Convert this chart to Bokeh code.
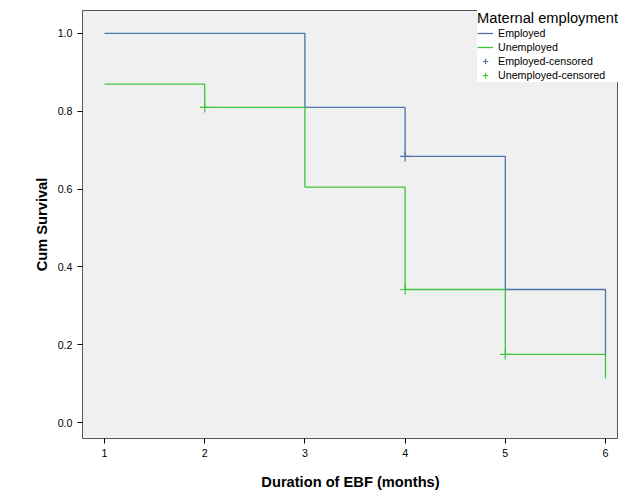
from bokeh.plotting import figure
from bokeh.models import Range1d, Legend, LegendItem, FixedTicker, CustomJSTickFormatter
from bokeh.embed import file_html
from bokeh.resources import INLINE

# survival step values
emp_x = [1, 3, 3, 4, 4, 5, 5, 6, 6]
emp_y = [1.0, 1.0, 0.81, 0.81, 0.684, 0.684, 0.342, 0.342, 0.175]
unemp_x = [1, 2, 2, 3, 3, 4, 4, 5, 5, 6, 6]
unemp_y = [0.87, 0.87, 0.81, 0.81, 0.605, 0.605, 0.342, 0.342, 0.175, 0.175, 0.113]
emp_cens_x = [4]
emp_cens_y = [0.684]
unemp_cens_x = [2, 4, 5]
unemp_cens_y = [0.81, 0.342, 0.175]

BLUE = "#4a74aa"
GREEN = "#3cc43c"

p = figure(width=618, height=492, output_backend="svg", toolbar_location=None,
           x_range=Range1d(0.78, 6.13), y_range=Range1d(-0.041, 1.059),
           background_fill_color="#f0f0f0", min_border_left=82, min_border_top=10,
           min_border_right=0, min_border_bottom=52)
p.outline_line_color = "#555555"
p.grid.visible = False

l1 = p.line(emp_x, emp_y, color=BLUE, line_width=1.3)
l2 = p.line(unemp_x, unemp_y, color=GREEN, line_width=1.3)
c1 = p.scatter(emp_cens_x, emp_cens_y, marker="cross", size=10, color=BLUE, line_width=1.2)
c2 = p.scatter(unemp_cens_x, unemp_cens_y, marker="cross", size=10, color=GREEN, line_width=1.2)

legend = Legend(items=[LegendItem(label="Employed", renderers=[l1]),
                       LegendItem(label="Unemployed", renderers=[l2]),
                       LegendItem(label="Employed-censored", renderers=[c1]),
                       LegendItem(label="Unemployed-censored", renderers=[c2])],
                location="top_right", title="Maternal employment",
                title_text_font_size="11pt", title_text_font="Arial",
                title_text_font_style="normal", title_text_color="black",
                label_text_font_size="8pt", label_text_font="Arial", label_text_color="black",
                background_fill_color="white", background_fill_alpha=1,
                border_line_color=None, glyph_height=14, glyph_width=16, label_height=14,
                padding=2, spacing=0, margin=0, title_standoff=0)
p.add_layout(legend)

p.xaxis.ticker = FixedTicker(ticks=[1, 2, 3, 4, 5, 6])
p.yaxis.ticker = FixedTicker(ticks=[0.0, 0.2, 0.4, 0.6, 0.8, 1.0])
p.yaxis.formatter = CustomJSTickFormatter(code="return tick.toFixed(1);")
p.xaxis.axis_label = "Duration of EBF (months)"
p.yaxis.axis_label = "Cum Survival"
for ax in (p.xaxis[0], p.yaxis[0]):
    ax.axis_label_text_font = "Arial"
    ax.axis_label_text_font_style = "bold"
    ax.axis_label_text_font_size = "11pt"
    ax.axis_label_text_color = "black"
    ax.major_label_text_font = "Arial"
    ax.major_label_text_font_size = "8pt"
    ax.major_label_text_color = "black"
    ax.axis_line_color = None
    ax.minor_tick_line_color = None
    ax.major_tick_out = 5
    ax.major_tick_in = 0
p.xaxis.axis_label_standoff = 14

open("out.html", "w").write(file_html(p, INLINE))
